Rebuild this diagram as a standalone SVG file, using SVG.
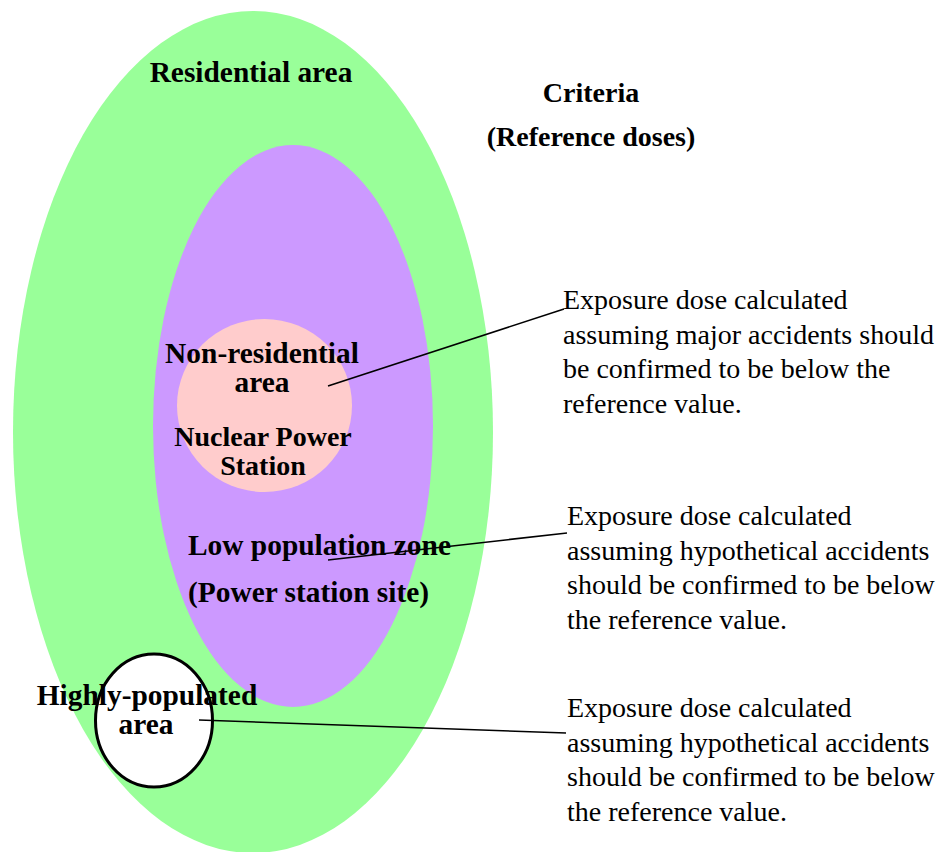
<svg xmlns="http://www.w3.org/2000/svg" width="939" height="852" viewBox="0 0 939 852">
  <style>
    .zone { stroke: none; }
    .lbl { font-family: "Liberation Serif", "Times New Roman", serif; font-size: 29.4px; font-weight: bold; fill: #000; text-anchor: middle; }
    .lbl-sm { font-family: "Liberation Serif", "Times New Roman", serif; font-size: 28px; font-weight: bold; fill: #000; text-anchor: middle; }
    .lbl-left { font-family: "Liberation Serif", "Times New Roman", serif; font-size: 29.4px; font-weight: bold; fill: #000; }
    .note { font-family: "Liberation Serif", "Times New Roman", serif; font-size: 28px; fill: #000; }
    .leader { stroke: #000; stroke-width: 1.6; fill: none; }
  </style>
  <rect width="939" height="852" fill="#ffffff"/>

  <g id="residential-area">
    <ellipse class="zone" cx="253" cy="432" rx="240" ry="421" fill="#99ff99"/>
    <text class="lbl" x="251" y="82">Residential area</text>
  </g>

  <g id="low-population-zone">
    <ellipse class="zone" cx="293" cy="426" rx="140" ry="281" fill="#cc99ff"/>
    <text class="lbl-left" x="188" y="555">Low population zone</text>
    <text class="lbl-left" x="188" y="602">(Power station site)</text>
  </g>

  <g id="non-residential-area">
    <ellipse class="zone" cx="264.5" cy="405.5" rx="87.5" ry="86.5" fill="#ffcccc"/>
    <text class="lbl" x="262" y="363">Non-residential</text>
    <text class="lbl" x="262" y="392">area</text>
    <text class="lbl-sm" x="263" y="446">Nuclear Power</text>
    <text class="lbl-sm" x="263" y="475">Station</text>
  </g>

  <g id="highly-populated-area">
    <ellipse cx="154" cy="720.5" rx="58.5" ry="66.5" fill="#ffffff" stroke="#000" stroke-width="3"/>
    <text class="lbl" x="147" y="705">Highly-populated</text>
    <text class="lbl" x="146" y="734">area</text>
  </g>

  <g id="criteria-heading">
    <text class="lbl-sm" x="591" y="102">Criteria</text>
    <text class="lbl-sm" x="591" y="146">(Reference doses)</text>
  </g>

  <g id="criterion-major">
    <text class="note" x="563" y="309">Exposure dose calculated</text>
    <text class="note" x="563" y="343.5">assuming major accidents should</text>
    <text class="note" x="563" y="378">be confirmed to be below the</text>
    <text class="note" x="563" y="412.5">reference value.</text>
  </g>

  <g id="criterion-lpz">
    <text class="note" x="567" y="525">Exposure dose calculated</text>
    <text class="note" x="567" y="559.5">assuming hypothetical accidents</text>
    <text class="note" x="567" y="594">should be confirmed to be below</text>
    <text class="note" x="567" y="628.5">the reference value.</text>
  </g>

  <g id="criterion-populated">
    <text class="note" x="567" y="717">Exposure dose calculated</text>
    <text class="note" x="567" y="751.5">assuming hypothetical accidents</text>
    <text class="note" x="567" y="786">should be confirmed to be below</text>
    <text class="note" x="567" y="820.5">the reference value.</text>
  </g>

  <g id="connectors">
    <line class="leader" x1="328" y1="386" x2="564" y2="309"/>
    <line class="leader" x1="328" y1="560" x2="567" y2="533"/>
    <line class="leader" x1="199" y1="720" x2="566" y2="733"/>
  </g>
</svg>
